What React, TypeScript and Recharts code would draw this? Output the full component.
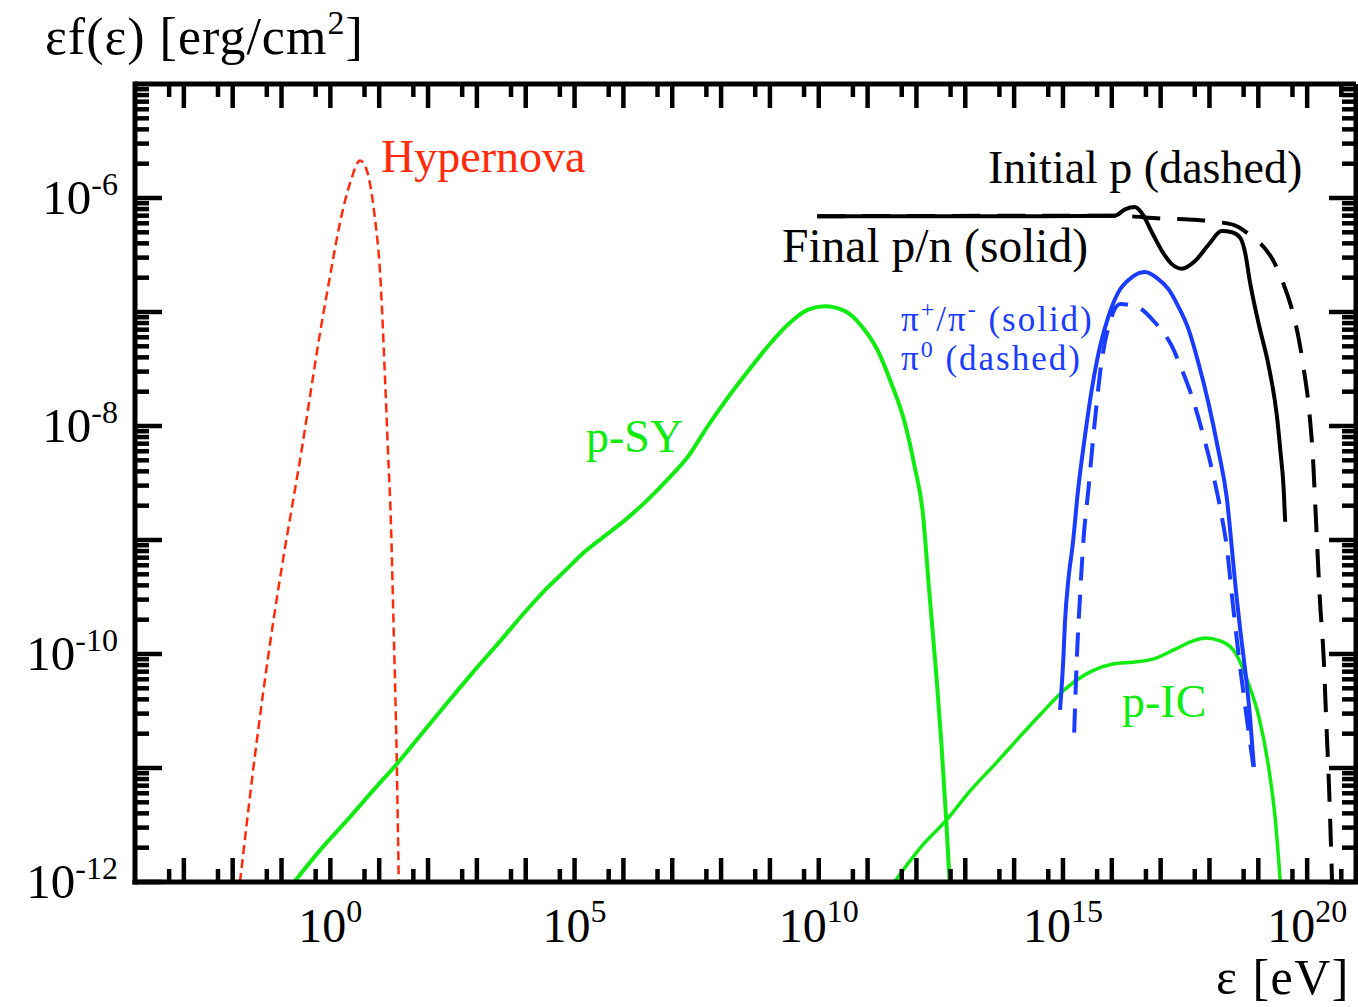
import React from 'react'
import { LineChart, Line, XAxis, YAxis, ReferenceLine } from 'recharts'

const W = 1358
const H = 1007
const PLOT_LEFT = 135
const PLOT_RIGHT = 1356
const PLOT_TOP = 84
const PLOT_BOTTOM = 882

const SERIF = '"Liberation Serif", "Times New Roman", Times, serif'
const RED = '#ff2a0a'
const GREEN = '#10ec10'
const BLUE = '#1a3cff'

const X_DOMAIN: [number, number] = [1e-4, 1e21]
const Y_DOMAIN: [number, number] = [1e-12, 1e-5]

// labelled decades on each axis
const xLabelExps = [0, 5, 10, 15, 20]
const yLabelExps = [-12, -10, -8, -6]

// curves, in decades: log10(eV) and log10(erg/cm2)
const hypernovaLogE = [-1.85, -1.57, -1.37, -1.16, -0.96, -0.79, -0.58, -0.41, -0.21, 0.0, 0.2, 0.41, 0.61, 0.74, 0.91, 1.02, 1.12, 1.18, 1.24, 1.29, 1.36, 1.4]
const hypernovaLogF = [-12, -10.98, -10.32, -9.69, -9.15, -8.72, -8.19, -7.72, -7.18, -6.67, -6.21, -5.86, -5.67, -5.75, -6.17, -6.67, -7.59, -8.22, -8.85, -9.68, -10.95, -12]

const pSyLogE = [-0.74, -0.21, 0.34, 0.89, 1.37, 1.85, 2.39, 2.94, 3.49, 4.03, 4.44, 4.78, 5.19, 5.6, 6.02, 6.49, 6.97, 7.32, 7.73, 8.14, 8.55, 8.96, 9.37, 9.78, 10.12, 10.53, 10.87, 11.21, 11.48, 11.76, 11.96, 12.13, 12.26, 12.41, 12.51, 12.61, 12.68]
const pSyLogF = [-12, -11.72, -11.46, -11.19, -10.96, -10.71, -10.43, -10.15, -9.88, -9.61, -9.42, -9.28, -9.11, -8.97, -8.83, -8.65, -8.44, -8.27, -8.0, -7.75, -7.52, -7.3, -7.11, -6.98, -6.95, -6.99, -7.12, -7.34, -7.62, -7.97, -8.35, -8.76, -9.44, -10.2, -10.78, -11.46, -12]

const pIcLogE = [11.55, 12.1, 12.65, 13.06, 13.6, 14.15, 14.56, 15.04, 15.59, 16.0, 16.47, 16.88, 17.29, 17.64, 17.91, 18.25, 18.53, 18.8, 19.01, 19.21, 19.35, 19.45]
const pIcLogF = [-12, -11.69, -11.44, -11.22, -10.97, -10.71, -10.52, -10.31, -10.15, -10.09, -10.07, -10.04, -9.96, -9.89, -9.86, -9.89, -9.99, -10.26, -10.55, -10.99, -11.46, -12]

const piChargedLogE = [14.94, 15.01, 15.04, 15.11, 15.2, 15.31, 15.45, 15.59, 15.76, 15.93, 16.13, 16.37, 16.68, 16.92, 17.16, 17.36, 17.57, 17.77, 17.98, 18.18, 18.36, 18.46, 18.54, 18.63, 18.73, 18.83, 18.91]
const piChargedLogF = [-10.49, -10.02, -9.73, -9.35, -9.04, -8.56, -8.09, -7.68, -7.3, -7.04, -6.83, -6.71, -6.65, -6.7, -6.8, -6.95, -7.15, -7.44, -7.8, -8.21, -8.65, -9.08, -9.44, -9.79, -10.14, -10.55, -10.99]

const piNeutralLogE = [15.23, 15.28, 15.35, 15.42, 15.52, 15.65, 15.79, 15.96, 16.17, 16.54, 16.88, 17.23, 17.43, 17.64, 17.84, 18.05, 18.25, 18.36, 18.46, 18.6, 18.76, 18.9]
const piNeutralLogF = [-10.69, -10.08, -9.49, -9.0, -8.56, -7.97, -7.44, -7.09, -6.93, -6.96, -7.09, -7.3, -7.5, -7.74, -8.03, -8.38, -8.79, -9.08, -9.49, -10.02, -10.55, -10.99]

const finalLogE = [9.97, 14.56, 16.06, 16.27, 16.47, 16.61, 16.82, 17.02, 17.23, 17.43, 17.71, 17.98, 18.25, 18.46, 18.63, 18.73, 18.83, 19.0, 19.21, 19.38, 19.45, 19.52, 19.55]
const finalLogF = [-6.16, -6.16, -6.155, -6.1, -6.08, -6.13, -6.3, -6.46, -6.58, -6.62, -6.55, -6.41, -6.29, -6.3, -6.35, -6.48, -6.74, -7.09, -7.47, -7.91, -8.21, -8.56, -8.84]

const initialLogE = [9.97, 16.06, 17.02, 17.64, 18.15, 18.52, 18.87, 19.11, 19.32, 19.52, 19.69, 19.83, 19.93, 20.04, 20.12, 20.18, 20.26, 20.34, 20.39, 20.45, 20.51]
const initialLogF = [-6.16, -6.155, -6.18, -6.19, -6.21, -6.24, -6.34, -6.43, -6.56, -6.76, -6.98, -7.24, -7.5, -7.86, -8.29, -8.82, -9.52, -10.05, -10.58, -11.19, -12]

const toPoints = (logE: number[], logF: number[]) =>
  logE.map((e, i) => ({ e: Math.pow(10, e), f: Math.pow(10, logF[i]) }))

const hypernova = toPoints(hypernovaLogE, hypernovaLogF)
const pSy = toPoints(pSyLogE, pSyLogF)
const pIc = toPoints(pIcLogE, pIcLogF)
const piCharged = toPoints(piChargedLogE, piChargedLogF)
const piNeutral = toPoints(piNeutralLogE, piNeutralLogF)
const finalPN = toPoints(finalLogE, finalLogF)
const initialP = toPoints(initialLogE, initialLogF)

// long ticks on decades, short ones at 5 x 10^n along x; 2..9 x 10^n along y
const xTicks: number[] = []
for (let n = -4; n <= 20; n++) {
  if (n > -4) xTicks.push(Math.pow(10, n))
  xTicks.push(5 * Math.pow(10, n))
}
const yTicks: number[] = []
for (let n = -12; n <= -6; n++) {
  yTicks.push(Math.pow(10, n))
  for (let m = 2; m <= 9; m++) yTicks.push(m * Math.pow(10, n))
}

const isDecade = (v: number) => {
  const l = Math.log10(v)
  return Math.abs(l - Math.round(l)) < 1e-9
}

const frame = { stroke: '#000', strokeWidth: 5, strokeLinecap: 'square' as const }

// each tick draws itself on both opposite edges of the frame
const XTick = (props: any) => {
  const { x, payload } = props
  const major = isDecade(payload.value)
  const exp = Math.round(Math.log10(payload.value))
  const len = major ? 24 : 13
  return (
    <g>
      <line x1={x} x2={x} y1={PLOT_BOTTOM} y2={PLOT_BOTTOM - len} stroke="#000" strokeWidth={4.5} />
      <line x1={x} x2={x} y1={PLOT_TOP} y2={PLOT_TOP + len} stroke="#000" strokeWidth={4.5} />
      {major && xLabelExps.includes(exp) ? (
        <text x={x} y={942} textAnchor="middle" fontFamily={SERIF} fontSize={48} fill="#000">
          10<tspan dy={-20} fontSize={32}>{exp}</tspan>
        </text>
      ) : null}
    </g>
  )
}

const YTick = (props: any) => {
  const { y, payload } = props
  const major = isDecade(payload.value)
  const exp = Math.round(Math.log10(payload.value))
  const len = major ? 27 : 14
  return (
    <g>
      <line x1={PLOT_LEFT} x2={PLOT_LEFT + len} y1={y} y2={y} stroke="#000" strokeWidth={4.5} />
      <line x1={PLOT_RIGHT} x2={PLOT_RIGHT - len} y1={y} y2={y} stroke="#000" strokeWidth={4.5} />
      {major && yLabelExps.includes(exp) ? (
        <text x={118} y={y + 16} textAnchor="end" fontFamily={SERIF} fontSize={49} fill="#000">
          10<tspan dy={-19} fontSize={32}>{exp}</tspan>
        </text>
      ) : null}
    </g>
  )
}

export default function App() {
  return (
    <div style={{ position: 'absolute', left: 0, top: 0, width: W, height: H, background: '#fff' }}>
      <LineChart width={W} height={H} margin={{ top: PLOT_TOP, right: W - PLOT_RIGHT, bottom: 0, left: 0 }}>
        <XAxis xAxisId="bottom" orientation="bottom" dataKey="e" type="number" scale="log" domain={X_DOMAIN}
          allowDataOverflow ticks={xTicks} interval={0} tick={<XTick />} tickLine={false}
          axisLine={frame} height={H - PLOT_BOTTOM} />
        <YAxis yAxisId="left" orientation="left" dataKey="f" type="number" scale="log" domain={Y_DOMAIN}
          allowDataOverflow ticks={yTicks} interval={0} tick={<YTick />} tickLine={false}
          axisLine={frame} width={PLOT_LEFT} />

        <Line data={hypernova} dataKey="f" xAxisId="bottom" yAxisId="left" type="monotone" stroke={RED}
          strokeWidth={2.5} strokeDasharray="9 5" dot={false} activeDot={false} isAnimationActive={false} />
        <Line data={pSy} dataKey="f" xAxisId="bottom" yAxisId="left" type="monotone" stroke={GREEN}
          strokeWidth={4} dot={false} activeDot={false} isAnimationActive={false} />
        <Line data={pIc} dataKey="f" xAxisId="bottom" yAxisId="left" type="monotone" stroke={GREEN}
          strokeWidth={3.5} dot={false} activeDot={false} isAnimationActive={false} />
        <Line data={piNeutral} dataKey="f" xAxisId="bottom" yAxisId="left" type="monotone" stroke={BLUE}
          strokeWidth={4} strokeDasharray="24 14" dot={false} activeDot={false} isAnimationActive={false} />
        <Line data={piCharged} dataKey="f" xAxisId="bottom" yAxisId="left" type="monotone" stroke={BLUE}
          strokeWidth={4} dot={false} activeDot={false} isAnimationActive={false} />
        <Line data={initialP} dataKey="f" xAxisId="bottom" yAxisId="left" type="monotone" stroke="#000"
          strokeWidth={4} strokeDasharray="28 17" dot={false} activeDot={false} isAnimationActive={false} />
        <Line data={finalPN} dataKey="f" xAxisId="bottom" yAxisId="left" type="monotone" stroke="#000"
          strokeWidth={4} dot={false} activeDot={false} isAnimationActive={false} />

        <ReferenceLine y={Y_DOMAIN[1]} xAxisId="bottom" yAxisId="left" stroke="#000" strokeWidth={5} />
        <ReferenceLine x={X_DOMAIN[1]} xAxisId="bottom" yAxisId="left" stroke="#000" strokeWidth={5} />
      </LineChart>

      <svg width={W} height={H} fontFamily={SERIF}
        style={{ position: 'absolute', left: 0, top: 0, pointerEvents: 'none' }}>
        <text x={45} y={54} fontSize={52} letterSpacing={1} fill="#000">
          εf(ε) [erg/cm<tspan dy={-20} fontSize={34}>2</tspan><tspan dy={20}>]</tspan>
        </text>
        <text x={1350} y={994} fontSize={50} letterSpacing={1.5} textAnchor="end" fill="#000">ε [eV]</text>
        <text x={381} y={172} fontSize={46} fill={RED}>Hypernova</text>
        <text x={988} y={183} fontSize={46} fill="#000">Initial p (dashed)</text>
        <text x={782} y={262} fontSize={47.5} fill="#000">Final p/n (solid)</text>
        <text x={901} y={331} fontSize={35} letterSpacing={2} fill={BLUE}>
          π<tspan dy={-14} fontSize={24}>+</tspan><tspan dy={14}>/π</tspan><tspan dy={-14} fontSize={24}>-</tspan><tspan dy={14}> (solid)</tspan>
        </text>
        <text x={901} y={370} fontSize={35} letterSpacing={2} fill={BLUE}>
          π<tspan dy={-13} fontSize={24}>0</tspan><tspan dy={13}> (dashed)</tspan>
        </text>
        <text x={586} y={452} fontSize={46} fill={GREEN}>p-SY</text>
        <text x={1122} y={717} fontSize={46} fill={GREEN}>p-IC</text>
      </svg>
    </div>
  )
}
